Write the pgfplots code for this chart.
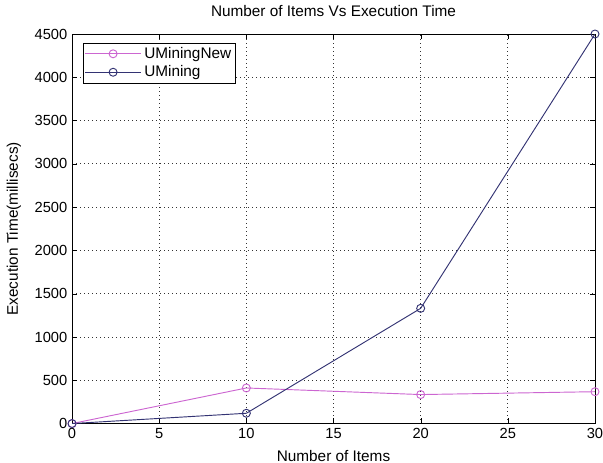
\documentclass[border=0pt]{standalone}
\usepackage{pgfplots}
\pgfplotsset{compat=1.18}
\usepackage{fontspec}
\setmainfont{Liberation Sans}
\definecolor{newc}{rgb}{0.80,0.40,0.82}
\definecolor{oldc}{rgb}{0.20,0.20,0.45}
\begin{document}
\begin{tikzpicture}
\useasboundingbox (-54pt,-29.25pt) rectangle (398pt,317.5pt);
\begin{axis}[
  scale only axis,
  width=392pt, height=292pt,
  xmin=0, xmax=30, ymin=0, ymax=4500,
  xtick={0,5,...,30},
  ytick={0,500,...,4500},
  tick align=inside,
  tick pos=both,
  major tick length=4pt,
  grid=major,
  major grid style={black!80, dash pattern=on 0.6pt off 2.4pt, line width=0.6pt},
  axis line style={black, line width=0.5pt},
  tick style={black},
  /pgf/number format/assume math mode=true,
  /pgf/number format/1000 sep={},
  scaled y ticks=false,
  ticklabel style={font=\fontsize{11}{13}\selectfont},
  title={Number of Items Vs Execution Time},
  title style={font=\fontsize{11.5}{13}\selectfont, at={(axis description cs:0.5,1)}, anchor=center, yshift=11.25pt},
  xlabel={Number of Items},
  ylabel={Execution Time(millisecs)},
  label style={font=\fontsize{11.5}{13}\selectfont},
  xlabel style={at={(axis description cs:0.5,0)}, anchor=center, yshift=-24pt},
  ylabel style={at={(axis description cs:0,0.5)}, anchor=center, yshift=43.5pt},
  legend style={at={(0.021,0.977)}, anchor=north west, draw=black, font=\fontsize{11.5}{13}\selectfont, inner sep=1pt, row sep=0pt, nodes={inner sep=2pt}},
  legend cell align=left,
  legend image code/.code={\draw[mark repeat=2,mark phase=2,#1] plot coordinates {(0pt,0pt) (21pt,0pt) (42pt,0pt)};},
]
\addplot[color=newc, line width=0.7pt, mark=o, mark size=3pt] coordinates {(0,0) (10,411) (20,335) (30,368)};
\addlegendentry{UMiningNew}
\addplot[color=oldc, line width=0.7pt, mark=o, mark size=3pt] coordinates {(0,0) (10,119) (20,1331) (30,4500)};
\addlegendentry{UMining}
\end{axis}
\end{tikzpicture}
\end{document}
